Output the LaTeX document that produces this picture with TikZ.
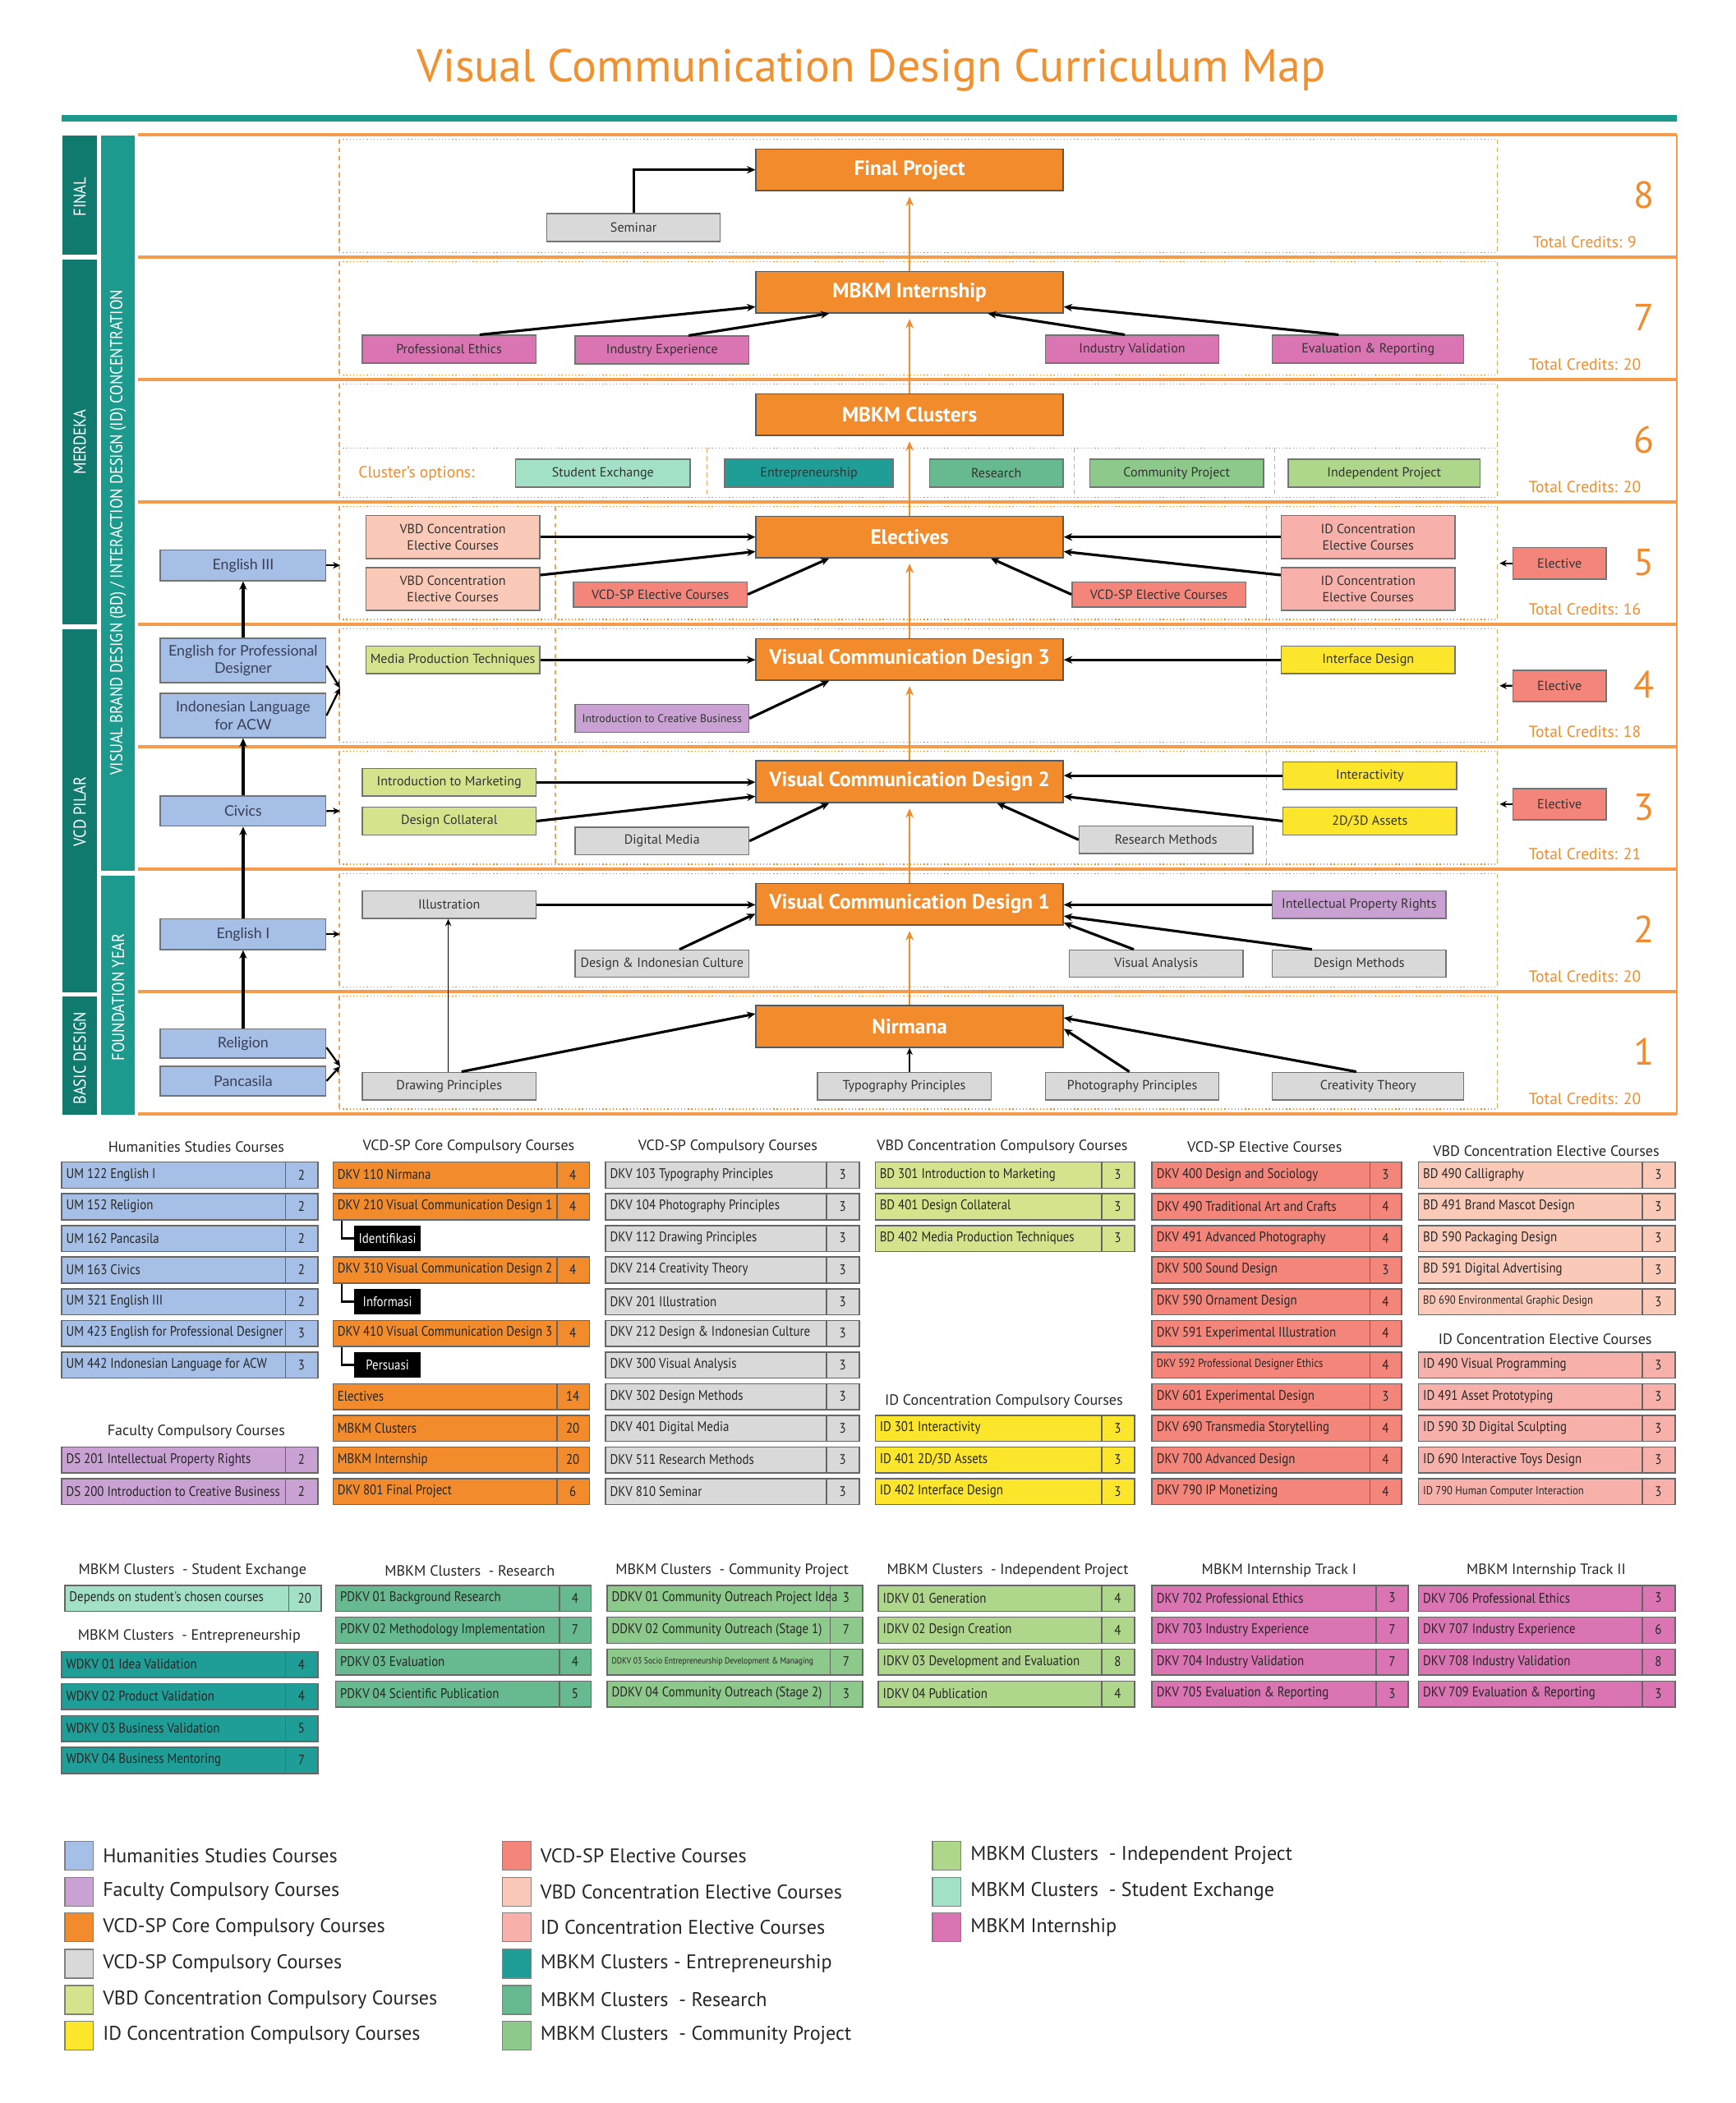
\documentclass[tikz,border=0pt]{standalone}
\usepackage{fontspec}
\setmainfont{PT Sans}
\newfontfamily\condf{PT Sans}[FakeStretch=0.88]
\newfontfamily\latof{Lato}
\usetikzlibrary{arrows.meta,calc}
\definecolor{cOr}{HTML}{F28B2C}
\definecolor{cTitle}{HTML}{F0902F}
\definecolor{cTeal}{HTML}{1C9A8D}
\definecolor{cTealD}{HTML}{117A6E}
\definecolor{cGray}{HTML}{D9D9D9}
\definecolor{cBlue}{HTML}{A6BFE6}
\definecolor{cPink}{HTML}{DA74B2}
\definecolor{cLime}{HTML}{D6E38D}
\definecolor{cYel}{HTML}{FCE62B}
\definecolor{cPur}{HTML}{C9A1D3}
\definecolor{cRed}{HTML}{F3857A}
\definecolor{cVBDe}{HTML}{FAC9B8}
\definecolor{cIDe}{HTML}{F7B1AA}
\definecolor{cMint}{HTML}{A2E1C5}
\definecolor{cEnt}{HTML}{1F9E97}
\definecolor{cRes}{HTML}{67B98F}
\definecolor{cCom}{HTML}{8DC98B}
\definecolor{cInd}{HTML}{AED78B}
\definecolor{cTxt}{HTML}{333333}
\definecolor{cHum}{HTML}{3A3F55}
\newcommand{\flab}{\fontsize{5.6}{7}\selectfont}
\newcommand{\fsmall}{\fontsize{4.8}{5.7}\selectfont}
\newcommand{\fmain}{\bfseries\fontsize{8.8}{10.5}\selectfont}
\newcommand{\ftab}{\condf\fontsize{5.9}{7}\selectfont}
\newcommand{\fhead}{\fontsize{6.3}{7.5}\selectfont}
\newcommand{\fleg}{\fontsize{8.4}{10}\selectfont}
\newcommand{\fnum}{\fontsize{16}{19}\selectfont}
\newcommand{\fcred}{\fontsize{6.8}{8}\selectfont}
\newcommand{\fteal}{\condf\fontsize{7.3}{8.5}\selectfont}
\newcommand{\fhum}{\latof\fontsize{6.2}{7.6}\selectfont}
\newcommand{\cb}[7]{\node[#2,minimum width={(#5-#3)*0.02cm},minimum height={(#6-#4)*0.02cm}] (#1) at ({(#3+#5)/2},{(#4+#6)/2}) {#7};}
\newcommand{\trw}[8]{%
 \node[tbox,fill=#2,anchor=north west,minimum width={(#5-#3)*0.02cm},minimum height=19.4*0.02cm] (#1) at (#3,#6) {};
 \draw[tdiv] (#4,#6) -- (#4,#6+19.4);
 \node[ttxt,anchor=west] (#1-t) at (#3+3.5,#6+9.9) {#7};
 \node[ttxt] (#1-n) at ({(#4+#5)/2},#6+9.9) {#8};}
\begin{document}
\begin{tikzpicture}[x=0.02cm,y=-0.02cm,
 box/.style={draw=black!55,line width=0.5pt,inner sep=0pt,text=cTxt,align=center,font=\flab},
 mbox/.style={box,fill=cOr,draw=black!65,text=white,font=\fmain},
 hbox/.style={box,fill=cBlue,draw=black!55,font=\fhum,text=cHum},
 conn/.style={draw=black,line width=1.1pt,-{Stealth[length=3.6pt,width=3.2pt]}},
 sconn/.style={draw=black,line width=0.8pt,-{Stealth[length=3pt,width=2.8pt]}},
 thinc/.style={draw=black,line width=0.55pt,-{Stealth[length=3pt,width=2.6pt]}},
 oarr/.style={draw=cOr,line width=0.9pt,-{Stealth[length=4pt,width=3.4pt]},shorten >=2.3pt},
 rowline/.style={draw=cOr!85,line width=1.3pt},
 dotl/.style={draw=cOr,line width=0.45pt,densely dotted},
 dashl/.style={draw=cOr!80,line width=0.4pt,dash pattern=on 2pt off 1.5pt},
 tbox/.style={draw=black!60,line width=0.55pt,inner sep=0pt},
 tdiv/.style={draw=black!60,line width=0.55pt},
 ttxt/.style={font=\ftab,text=black!85,inner sep=0pt},
 thead/.style={font=\fhead,text=black!85,inner sep=0pt},
 blk/.style={fill=black,text=white,font=\ftab,inner sep=0pt,minimum width=49.4*0.02cm,minimum height=19.4*0.02cm,anchor=north west},
 brk/.style={draw=black,line width=0.8pt},
 sw/.style={draw=black!50,line width=0.5pt,minimum width=21.2*0.02cm,minimum height=21.4*0.02cm,inner sep=0pt,anchor=north west},
 legt/.style={font=\fleg,text=black!85,anchor=west,inner sep=0pt},
 tealt/.style={font=\fteal,text=white,rotate=90,inner sep=0pt}]
\useasboundingbox (0,0) rectangle (1294,1568);
\fill[white] (0,0) rectangle (1294,1568);
% title
\node[text=cTitle,font=\fontsize{19.5}{23}\selectfont,anchor=base,inner sep=0pt] (title) at (649.5,61) {Visual Communication Design Curriculum Map};
\fill[cTeal] (46,86) rectangle (1250,90.5);
% left columns
\fill[cTealD] (46.5,101) rectangle (72.5,190);
\fill[cTealD] (46.5,193.5) rectangle (72.5,465.5);
\fill[cTealD] (46.5,469) rectangle (72.5,740);
\fill[cTealD] (46.5,743) rectangle (72.5,831);
\fill[cTeal] (75.5,101) rectangle (100.5,649.5);
\fill[cTeal] (75.5,653) rectangle (100.5,831);
\node[tealt] (lfinal) at (59.5,146.8) {FINAL};
\node[tealt] (lmerd) at (59.5,329.6) {MERDEKA};
\node[tealt] (lvcdp) at (59.5,605) {VCD PILAR};
\node[tealt] (lbasic) at (59.5,789) {BASIC DESIGN};
\node[tealt] (lconc) at (88,397) {VISUAL BRAND DESIGN (BD) / INTERACTION DESIGN (ID) CONCENTRATION};
\node[tealt] (lfound) at (88,743.5) {FOUNDATION YEAR};
% row frames
\foreach \y in {100.4,191.6,282.9,374.1,465.4,556.6,647.9,739.1,830.4} \draw[rowline] (103,\y) -- (1250,\y);
\draw[draw=cOr!85,line width=0.8pt] (1250,100.4) -- (1250,830.4);
\foreach \y in {100.4,191.6,282.9,374.1,465.4,556.6,647.9,739.1} {
 \draw[dotl] (253,\y+3.5) -- (1116.5,\y+3.5);
 \draw[dotl] (253,\y+87.8) -- (1116.5,\y+87.8);
 \draw[dashl] (253,\y+3.5) -- (253,\y+87.8);
 \draw[dashl] (1116.5,\y+3.5) -- (1116.5,\y+87.8);}
\foreach \y in {374.1,465.4,556.6} {
 \draw[dashl] (414,\y+3.5) -- (414,\y+87.8);
 \draw[dashl] (944,\y+3.5) -- (944,\y+87.8);}
\draw[dotl] (253,334) -- (1116.5,334);
\foreach \x in {527,801,950.5} \draw[dashl] (\x,334) -- (\x,370.7);
% credits
\foreach \y/\n/\c in {100.4/8/9,191.6/7/20,282.9/6/20,374.1/5/16,465.4/4/18,556.6/3/21,647.9/2/20,739.1/1/20} {
 \node[font=\fnum,text=cOr,anchor=base,inner sep=0pt] (num\n) at (1225.5,\y+55.1) {\n};
 \node[font=\fcred,text=cOr,anchor=base,inner sep=0pt] (cred\n) at (1181.5,\y+84.3) {Total Credits: \c};}
% ---- row 8
\cb{fp}{mbox}{563.6}{111.1}{792.6}{142.1}{Final Project}
\cb{sem}{box,fill=cGray}{407.6}{159.2}{537}{180}{Seminar}
\draw[conn] (sem.north) |- (fp.west);
% ---- row 7
\cb{intern}{mbox}{563.6}{202.3}{792.6}{233.3}{MBKM Internship}
\cb{pe}{box,fill=cPink}{270}{250}{399.6}{270.8}{Professional Ethics}
\cb{iexp}{box,fill=cPink}{428.8}{250.6}{558.3}{271.4}{Industry Experience}
\cb{ival}{box,fill=cPink}{779.3}{250}{908.8}{270.8}{Industry Validation}
\cb{evr}{box,fill=cPink}{948.6}{250}{1091.3}{270.8}{Evaluation \& Reporting}
\draw[conn] ($(pe.north west)+(88,0)$) -- ($(intern.south west)+(0,-5)$);
\draw[conn] ($(iexp.north west)+(85,0)$) -- ($(intern.south west)+(55,0)$);
\draw[conn] ($(ival.north west)+(59.7,0)$) -- ($(intern.south east)+(-56.6,0)$);
\draw[conn] ($(evr.north west)+(49.8,0)$) -- ($(intern.south east)+(0,-5)$);
\draw[oarr] (intern.north) -- (fp.south);
% ---- row 6
\cb{clus}{mbox}{563.6}{293.6}{792.6}{324.6}{MBKM Clusters}
\node[font=\fcred,text=cOr,anchor=west,inner sep=0pt] (copt) at (267,353) {Cluster's options:};
\cb{sexc}{box,fill=cMint}{384.4}{342.5}{514.5}{363.3}{Student Exchange}
\cb{entr}{box,fill=cEnt}{540.3}{342.5}{665.8}{363.3}{Entrepreneurship}
\cb{rsch}{box,fill=cRes}{693}{342.5}{792.6}{363.3}{Research}
\cb{comp}{box,fill=cCom}{812.5}{342.5}{942}{363.3}{Community Project}
\cb{indp}{box,fill=cInd}{960.5}{342.5}{1103.3}{363.3}{Independent Project}
\draw[oarr] (clus.north) -- (intern.south);
% ---- row 5
\cb{elec}{mbox}{563.6}{384.8}{792.6}{415.8}{Electives}
\cb{vbda}{box,fill=cVBDe}{272.8}{384.4}{402.3}{416.4}{VBD Concentration\\Elective Courses}
\cb{vbdb}{box,fill=cVBDe}{272.8}{423.2}{402.3}{455.2}{VBD Concentration\\Elective Courses}
\cb{vspl}{box,fill=cRed}{427.5}{433.8}{557}{452.6}{VCD-SP Elective Courses}
\cb{vspr}{box,fill=cRed}{799.2}{433.8}{928.7}{452.6}{VCD-SP Elective Courses}
\cb{ida}{box,fill=cIDe}{955.2}{384.4}{1084.7}{416.4}{ID Concentration\\Elective Courses}
\cb{idb}{box,fill=cIDe}{955.2}{423.2}{1084.7}{455.2}{ID Concentration\\Elective Courses}
\cb{elv5}{box,fill=cRed}{1127.8}{408.3}{1197.5}{431.7}{Elective}
\draw[conn] (vbda.east) -- (vbda.east -| elec.west);
\draw[conn] ($(vbdb.north east)+(0,6)$) -- ($(elec.south west)+(0,-5)$);
\draw[conn] (vspl.east) -- ($(elec.south west)+(55,0)$);
\draw[conn] (vspr.west) -- ($(elec.south east)+(-54.4,0)$);
\draw[conn] (ida.west) -- (ida.west -| elec.east);
\draw[conn] ($(idb.north west)+(0,6)$) -- ($(elec.south east)+(0,-5)$);
\coordinate (e5t) at (1118,420);
\draw[sconn] (elv5.west) -- (e5t);
\draw[oarr] (elec.north) -- (clus.south);
% ---- row 4
\cb{v3}{mbox}{563.6}{476.1}{792.6}{507.1}{Visual Communication Design 3}
\cb{mpt}{box,fill=cLime}{272.8}{481.7}{402.3}{502.2}{Media Production Techniques}
\cb{ifd}{box,fill=cYel}{955.2}{481.7}{1084.7}{502.2}{Interface Design}
\cb{icb}{box,fill=cPur,font=\fsmall}{428.8}{525.2}{558.3}{546}{Introduction to Creative Business}
\cb{elv4}{box,fill=cRed}{1127.8}{499.7}{1197.5}{523}{Elective}
\draw[conn] (mpt.east) -- (mpt.east -| v3.west);
\draw[conn] (ifd.west) -- (ifd.west -| v3.east);
\draw[conn] (icb.east) -- ($(v3.south west)+(55,0)$);
\coordinate (e4t) at (1118,511.3);
\draw[sconn] (elv4.west) -- (e4t);
\draw[oarr] (v3.north) -- (elec.south);
% ---- row 3
\cb{v2}{mbox}{563.6}{567.3}{792.6}{598.3}{Visual Communication Design 2}
\cb{imk}{box,fill=cLime}{270.2}{573}{399.6}{593.4}{Introduction to Marketing}
\cb{dcol}{box,fill=cLime}{270.2}{601.8}{399.6}{622.6}{Design Collateral}
\cb{dmed}{box,fill=cGray}{428.8}{616.8}{558.3}{637.3}{Digital Media}
\cb{rmet}{box,fill=cGray}{804.5}{615.8}{934}{636.4}{Research Methods}
\cb{inter}{box,fill=cYel}{956.5}{568}{1086}{588.5}{Interactivity}
\cb{asst}{box,fill=cYel}{956.5}{601.8}{1086}{622.6}{2D/3D Assets}
\cb{elv3}{box,fill=cRed}{1127.8}{587.9}{1197.5}{611.3}{Elective}
\draw[conn] (imk.east) -- (imk.east -| v2.west);
\draw[conn] (dcol.east) -- ($(v2.south west)+(0,-5)$);
\draw[conn] (dmed.east) -- ($(v2.south west)+(55,0)$);
\draw[conn] (rmet.west) -- ($(v2.south east)+(-49.8,0)$);
\draw[conn] (inter.west) -- (inter.west -| v2.east);
\draw[conn] (asst.west) -- ($(v2.south east)+(0,-5)$);
\coordinate (e3t) at (1118,599.6);
\draw[sconn] (elv3.west) -- (e3t);
\draw[oarr] (v2.north) -- (v3.south);
% ---- row 2
\cb{v1}{mbox}{563.6}{658.6}{792.6}{689.6}{Visual Communication Design 1}
\cb{ill}{box,fill=cGray}{270.2}{664.4}{399.6}{684.8}{Illustration}
\cb{dic}{box,fill=cGray}{428.8}{708.3}{558.3}{728.7}{Design \& Indonesian Culture}
\cb{ipr}{box,fill=cPur}{948.6}{664.4}{1078}{684.8}{Intellectual Property Rights}
\cb{van}{box,fill=cGray}{797.2}{708.3}{926.7}{728.7}{Visual Analysis}
\cb{dme}{box,fill=cGray}{948.6}{708.3}{1078}{728.7}{Design Methods}
\draw[conn] (ill.east) -- (ill.east -| v1.west);
\draw[conn] ($(dic.north west)+(78.2,0)$) -- ($(v1.south west)+(0,-8.8)$);
\draw[conn] (ipr.west) -- (ipr.west -| v1.east);
\draw[conn] ($(van.north west)+(48.5,0)$) -- ($(v1.south east)+(0,-2)$);
\draw[conn] ($(dme.north west)+(29.9,0)$) -- ($(v1.south east)+(0,-7)$);
\draw[oarr] (v1.north) -- (v2.south);
% ---- row 1
\cb{nir}{mbox}{563.6}{749.8}{792.6}{780.8}{Nirmana}
\cb{drp}{box,fill=cGray}{270.2}{799.5}{399.6}{820}{Drawing Principles}
\cb{typ}{box,fill=cGray}{609.4}{799.5}{738.8}{820}{Typography Principles}
\cb{php}{box,fill=cGray}{779.3}{799.5}{908.8}{820}{Photography Principles}
\cb{crt}{box,fill=cGray}{948.6}{799.5}{1091.3}{820}{Creativity Theory}
\draw[thinc] ($(drp.north west)+(64.4,0)$) -- ($(ill.south west)+(64.4,0)$);
\draw[conn] ($(drp.north west)+(74.3,0)$) -- ($(nir.north west)+(0,6.5)$);
\draw[thinc] (typ.north -| nir.south) -- (nir.south);
\draw[conn] ($(php.north west)+(63.1,0)$) -- ($(nir.north east)+(0,17.7)$);
\draw[conn] ($(crt.north west)+(63,0)$) -- ($(nir.north east)+(0,9.5)$);
\draw[oarr] (nir.north) -- (v1.south);
% ---- humanities column
\cb{eng3}{hbox}{119.5}{410}{243}{433}{English III}
\cb{efpd}{hbox}{119.5}{476}{243}{509}{English for Professional\\Designer}
\cb{ila}{hbox}{119.5}{517}{243}{550}{Indonesian Language\\for ACW}
\cb{civ}{hbox}{119.5}{593.5}{243}{616}{Civics}
\cb{eng1}{hbox}{119.5}{685}{243}{708}{English I}
\cb{rel}{hbox}{119.5}{767}{243}{789}{Religion}
\cb{pan}{hbox}{119.5}{795}{243}{817}{Pancasila}
\coordinate (h5) at (253.5,421.5);
\coordinate (h4) at (253.5,513);
\coordinate (h3) at (253.5,604.7);
\coordinate (h2) at (253.5,696.5);
\coordinate (h1) at (253.5,795);
\draw[conn] (rel.north) -- (eng1.south);
\draw[conn] (eng1.north) -- (civ.south);
\draw[conn] (civ.north) -- (ila.south);
\draw[conn] (efpd.north) -- (eng3.south);
\draw[sconn] (eng3.east) -- (h5);
\draw[sconn] ($(efpd.south east)+(0,-13)$) -- (h4);
\draw[sconn] (ila.east) -- (h4);
\draw[sconn] (civ.east) -- (h3);
\draw[sconn] (eng1.east) -- (h2);
\draw[sconn] ($(rel.east)+(0,3)$) -- (h1);
\draw[sconn] (pan.east) -- (h1);
% ================= tables
\node[thead] (hd1) at (146.3,855.2) {Humanities Studies Courses};
\node[thead] (hd2) at (349.4,855.2) {VCD-SP Core Compulsory Courses};
\node[thead] (hd3) at (542.6,855.2) {VCD-SP Compulsory Courses};
\node[thead] (hd4) at (747.2,855.2) {VBD Concentration Compulsory Courses};
\node[thead] (hd5) at (942.8,855.2) {VCD-SP Elective Courses};
\node[thead] (hd6) at (1152.7,858.3) {VBD Concentration Elective Courses};
\node[thead] (hd7) at (146.3,1067.5) {Faculty Compulsory Courses};
\node[thead] (hd8) at (748.4,1045) {ID Concentration Compulsory Courses};
\node[thead] (hd9) at (1151.9,998.7) {ID Concentration Elective Courses};
% humanities
\trw{ta0}{cBlue}{45.5}{212.8}{236.7}{866}{UM 122 English I}{2}
\trw{ta1}{cBlue}{45.5}{212.8}{236.7}{889.6}{UM 152 Religion}{2}
\trw{ta2}{cBlue}{45.5}{212.8}{236.7}{913.2}{UM 162 Pancasila}{2}
\trw{ta3}{cBlue}{45.5}{212.8}{236.7}{936.8}{UM 163 Civics}{2}
\trw{ta4}{cBlue}{45.5}{212.8}{236.7}{960.4}{UM 321 English III}{2}
\trw{ta5}{cBlue}{45.5}{212.8}{236.7}{984}{UM 423 English for Professional Designer}{3}
\trw{ta6}{cBlue}{45.5}{212.8}{236.7}{1007.6}{UM 442 Indonesian Language for ACW}{3}
\trw{ta9}{cPur}{45.5}{212.8}{236.7}{1078.4}{DS 201 Intellectual Property Rights}{2}
\trw{ta10}{cPur}{45.5}{212.8}{236.7}{1102}{DS 200 Introduction to Creative Business}{2}
% core
\trw{tb0}{cOr}{247.8}{415.1}{439}{866}{DKV 110 Nirmana}{4}
\trw{tb1}{cOr}{247.8}{415.1}{439}{889.6}{DKV 210 Visual Communication Design 1}{4}
\trw{tb3}{cOr}{247.8}{415.1}{439}{936.8}{DKV 310 Visual Communication Design 2}{4}
\trw{tb5}{cOr}{247.8}{415.1}{439}{984}{DKV 410 Visual Communication Design 3}{4}
\trw{tb7}{cOr}{247.8}{415.1}{439}{1031.2}{Electives}{14}
\trw{tb8}{cOr}{247.8}{415.1}{439}{1054.8}{MBKM Clusters}{20}
\trw{tb9}{cOr}{247.8}{415.1}{439}{1078.4}{MBKM Internship}{20}
\trw{tb10}{cOr}{247.8}{415.1}{439}{1102}{DKV 801 Final Project}{6}
\node[blk] (idf) at (263.8,913.2) {Identifikasi};
\node[blk] (inf) at (263.8,960.4) {Informasi};
\node[blk] (prs) at (263.8,1007.6) {Persuasi};
\draw[brk] ($(tb1.south west)+(7.2,0)$) |- (idf.west);
\draw[brk] ($(tb3.south west)+(7.2,0)$) |- (inf.west);
\draw[brk] ($(tb5.south west)+(7.2,0)$) |- (prs.west);
% compulsory
\trw{tc0}{cGray}{451}{616.3}{640.2}{866}{DKV 103 Typography Principles}{3}
\trw{tc1}{cGray}{451}{616.3}{640.2}{889.6}{DKV 104 Photography Principles}{3}
\trw{tc2}{cGray}{451}{616.3}{640.2}{913.2}{DKV 112 Drawing Principles}{3}
\trw{tc3}{cGray}{451}{616.3}{640.2}{936.8}{DKV 214 Creativity Theory}{3}
\trw{tc4}{cGray}{451}{616.3}{640.2}{960.4}{DKV 201 Illustration}{3}
\trw{tc5}{cGray}{451}{616.3}{640.2}{984}{DKV 212 Design \& Indonesian Culture}{3}
\trw{tc6}{cGray}{451}{616.3}{640.2}{1007.6}{DKV 300 Visual Analysis}{3}
\trw{tc7}{cGray}{451}{616.3}{640.2}{1031.2}{DKV 302 Design Methods}{3}
\trw{tc8}{cGray}{451}{616.3}{640.2}{1054.8}{DKV 401 Digital Media}{3}
\trw{tc9}{cGray}{451}{616.3}{640.2}{1078.4}{DKV 511 Research Methods}{3}
\trw{tc10}{cGray}{451}{616.3}{640.2}{1102}{DKV 810 Seminar}{3}
% VBD / ID compulsory
\trw{td0}{cLime}{652}{821.3}{845.2}{866}{BD 301 Introduction to Marketing}{3}
\trw{td1}{cLime}{652}{821.3}{845.2}{889.6}{BD 401 Design Collateral}{3}
\trw{td2}{cLime}{652}{821.3}{845.2}{913.2}{BD 402 Media Production Techniques}{3}
\trw{td8}{cYel}{652}{821.3}{845.2}{1054.8}{ID 301 Interactivity}{3}
\trw{td9}{cYel}{652}{821.3}{845.2}{1078.4}{ID 401 2D/3D Assets}{3}
\trw{td10}{cYel}{652}{821.3}{845.2}{1102}{ID 402 Interface Design}{3}
% VCD-SP elective
\trw{te0}{cRed}{858.4}{1021.3}{1044.4}{866}{DKV 400 Design and Sociology}{3}
\trw{te1}{cRed}{858.4}{1021.3}{1044.4}{889.6}{DKV 490 Traditional Art and Crafts}{4}
\trw{te2}{cRed}{858.4}{1021.3}{1044.4}{913.2}{DKV 491 Advanced Photography}{4}
\trw{te3}{cRed}{858.4}{1021.3}{1044.4}{936.8}{DKV 500 Sound Design}{3}
\trw{te4}{cRed}{858.4}{1021.3}{1044.4}{960.4}{DKV 590 Ornament Design}{4}
\trw{te5}{cRed}{858.4}{1021.3}{1044.4}{984}{DKV 591 Experimental Illustration}{4}
\trw{te6}{cRed}{858.4}{1021.3}{1044.4}{1007.6}{{\fontsize{5}{6}\selectfont DKV 592 Professional Designer Ethics}}{4}
\trw{te7}{cRed}{858.4}{1021.3}{1044.4}{1031.2}{DKV 601 Experimental Design}{3}
\trw{te8}{cRed}{858.4}{1021.3}{1044.4}{1054.8}{DKV 690 Transmedia Storytelling}{4}
\trw{te9}{cRed}{858.4}{1021.3}{1044.4}{1078.4}{DKV 700 Advanced Design}{4}
\trw{te10}{cRed}{858.4}{1021.3}{1044.4}{1102}{DKV 790 IP Monetizing}{4}
% VBD / ID elective
\trw{tf0}{cVBDe}{1057.1}{1224.4}{1248.3}{866}{BD 490 Calligraphy}{3}
\trw{tf1}{cVBDe}{1057.1}{1224.4}{1248.3}{889.6}{BD 491 Brand Mascot Design}{3}
\trw{tf2}{cVBDe}{1057.1}{1224.4}{1248.3}{913.2}{BD 590 Packaging Design}{3}
\trw{tf3}{cVBDe}{1057.1}{1224.4}{1248.3}{936.8}{BD 591 Digital Advertising}{3}
\trw{tf4}{cVBDe}{1057.1}{1224.4}{1248.3}{960.4}{{\fontsize{5}{6}\selectfont BD 690 Environmental Graphic Design}}{3}
\trw{tf6}{cIDe}{1057.1}{1224.4}{1248.3}{1007.6}{ID 490 Visual Programming}{3}
\trw{tf7}{cIDe}{1057.1}{1224.4}{1248.3}{1031.2}{ID 491 Asset Prototyping}{3}
\trw{tf8}{cIDe}{1057.1}{1224.4}{1248.3}{1054.8}{ID 590 3D Digital Sculpting}{3}
\trw{tf9}{cIDe}{1057.1}{1224.4}{1248.3}{1078.4}{ID 690 Interactive Toys Design}{3}
\trw{tf10}{cIDe}{1057.1}{1224.4}{1248.3}{1102}{{\fontsize{5}{6}\selectfont ID 790 Human Computer Interaction}}{3}
% ================= MBKM tables
\node[thead] (hm1) at (143.5,1171.1) {MBKM Clusters~ - Student Exchange};
\node[thead] (hm2) at (141.1,1220) {MBKM Clusters~ - Entrepreneurship};
\node[thead] (hm3) at (350.2,1171.1) {MBKM Clusters~ - Research};
\node[thead] (hm4) at (545.8,1171.1) {MBKM Clusters~ - Community Project};
\node[thead] (hm5) at (751.2,1171.1) {MBKM Clusters~ - Independent Project};
\node[thead] (hm6) at (953.6,1171.1) {MBKM Internship Track I};
\node[thead] (hm7) at (1152.7,1171.1) {MBKM Internship Track II};
\trw{ts0}{cMint}{47.9}{215.2}{239.1}{1181.5}{Depends on student's chosen courses}{20}
\trw{tw0}{cEnt}{45.5}{212.8}{236.7}{1231}{WDKV 01 Idea Validation}{4}
\trw{tw1}{cEnt}{45.5}{212.8}{236.7}{1254.8}{WDKV 02 Product Validation}{4}
\trw{tw2}{cEnt}{45.5}{212.8}{236.7}{1278.6}{WDKV 03 Business Validation}{5}
\trw{tw3}{cEnt}{45.5}{212.8}{236.7}{1302.4}{WDKV 04 Business Mentoring}{7}
\trw{tp0}{cRes}{249.8}{417.1}{440.2}{1181.5}{PDKV 01 Background Research}{4}
\trw{tp1}{cRes}{249.8}{417.1}{440.2}{1205.3}{PDKV 02 Methodology Implementation}{7}
\trw{tp2}{cRes}{249.8}{417.1}{440.2}{1229.1}{PDKV 03 Evaluation}{4}
\trw{tp3}{cRes}{249.8}{417.1}{440.2}{1252.9}{PDKV 04 Scientific Publication}{5}
\trw{tq0}{cCom}{452.2}{619}{642.5}{1181.5}{DDKV 01 Community Outreach Project Idea}{3}
\trw{tq1}{cCom}{452.2}{619}{642.5}{1205.3}{DDKV 02 Community Outreach (Stage 1)}{7}
\trw{tq2}{cCom}{452.2}{619}{642.5}{1229.1}{{\fontsize{3.8}{4.5}\selectfont DDKV 03 Socio Entrepreneurship Development \& Managing}}{7}
\trw{tq3}{cCom}{452.2}{619}{642.5}{1252.9}{DDKV 04 Community Outreach (Stage 2)}{3}
\trw{ti0}{cInd}{654.4}{821.3}{845.2}{1181.5}{IDKV 01 Generation}{4}
\trw{ti1}{cInd}{654.4}{821.3}{845.2}{1205.3}{IDKV 02 Design Creation}{4}
\trw{ti2}{cInd}{654.4}{821.3}{845.2}{1229.1}{IDKV 03 Development and Evaluation}{8}
\trw{ti3}{cInd}{654.4}{821.3}{845.2}{1252.9}{IDKV 04 Publication}{4}
\trw{tk0}{cPink}{858.4}{1026}{1049.5}{1181.5}{DKV 702 Professional Ethics}{3}
\trw{tk1}{cPink}{858.4}{1026}{1049.5}{1205.3}{DKV 703 Industry Experience}{7}
\trw{tk2}{cPink}{858.4}{1026}{1049.5}{1229.1}{DKV 704 Industry Validation}{7}
\trw{tk3}{cPink}{858.4}{1026}{1049.5}{1252.9}{DKV 705 Evaluation \& Reporting}{3}
\trw{tl0}{cPink}{1057.1}{1224.4}{1248.3}{1181.5}{DKV 706 Professional Ethics}{3}
\trw{tl1}{cPink}{1057.1}{1224.4}{1248.3}{1205.3}{DKV 707 Industry Experience}{6}
\trw{tl2}{cPink}{1057.1}{1224.4}{1248.3}{1229.1}{DKV 708 Industry Validation}{8}
\trw{tl3}{cPink}{1057.1}{1224.4}{1248.3}{1252.9}{DKV 709 Evaluation \& Reporting}{3}
% ================= legend
\foreach \i/\x/\y/\c/\t in {
 1/48/1372.4/cBlue/Humanities Studies Courses,
 2/48/1399.3/cPur/Faculty Compulsory Courses,
 3/48/1425.8/cOr/VCD-SP Core Compulsory Courses,
 4/48/1453/cGray/VCD-SP Compulsory Courses,
 5/48/1480/cLime/VBD Concentration Compulsory Courses,
 6/48/1506.5/cYel/ID Concentration Compulsory Courses,
 7/374.2/1372.4/cRed/VCD-SP Elective Courses,
 8/374.2/1399.3/cVBDe/VBD Concentration Elective Courses,
 9/374.2/1425.8/cIDe/ID Concentration Elective Courses,
 10/374.2/1453/cEnt/MBKM Clusters - Entrepreneurship,
 11/374.2/1480/cRes/MBKM Clusters~ - Research,
 12/374.2/1506.5/cCom/MBKM Clusters~ - Community Project,
 13/694.8/1372.4/cInd/MBKM Clusters~ - Independent Project,
 14/694.8/1399.3/cMint/MBKM Clusters~ - Student Exchange,
 15/694.8/1425.8/cPink/MBKM Internship} {
 \node[sw,fill=\c] (lg\i) at (\x,\y) {};
 \node[legt] (lt\i) at ($(lg\i.east)+(6.3,0)$) {\t};}
\end{tikzpicture}
\end{document}
